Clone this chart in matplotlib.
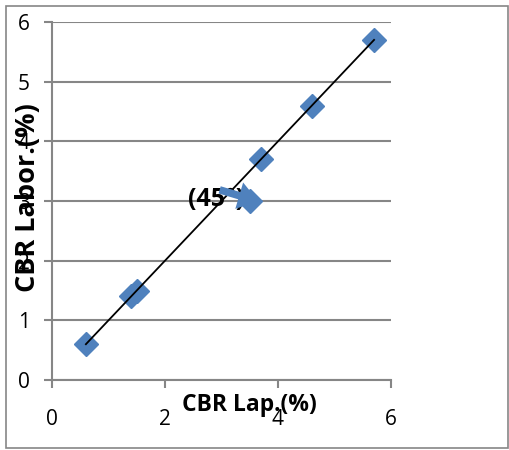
import matplotlib
matplotlib.use("Agg")
import matplotlib.pyplot as plt
from matplotlib.patches import Rectangle

# CBR values
cbr_lap = [0.6, 1.4, 1.5, 3.5, 3.7, 4.6, 5.7]
cbr_labor = [0.6, 1.4, 1.5, 3.0, 3.7, 4.6, 5.7]
line_x = [0.6, 5.7]
line_y = [0.6, 5.7]
ticks_x = [0, 2, 4, 6]
ticks_y = [0, 1, 2, 3, 4, 5, 6]

blue = '#4f81bd'
grey = '#868686'
plt.rcParams['font.family'] = ['Open Sans', 'DejaVu Sans']

fig = plt.figure(figsize=(5.1, 4.5), dpi=100)
ax = fig.add_axes([52 / 510, 1 - 380 / 450, 339 / 510, 358 / 450])

ax.plot(cbr_lap, cbr_labor, linestyle='none', marker='D', markersize=12.5,
        color=blue, zorder=3)
ax.plot(line_x, line_y, color='black', linewidth=1.3, zorder=5)

ax.text(2.9, 3.02, '(45°)', fontsize=18, fontweight='bold',
        ha='center', va='center', zorder=4)
ax.annotate('', xy=(3.7, 2.98), xytext=(2.92, 3.2),
            arrowprops=dict(arrowstyle='simple,head_width=1.1,head_length=0.8,tail_width=0.3',
                            mutation_scale=18, color=blue, lw=0), zorder=6)

ax.set_xlim(0, 6)
ax.set_ylim(0, 6)
ax.set_xticks(ticks_x)
ax.set_yticks(ticks_y)
ax.grid(axis='y', color=grey, linewidth=1.5)
ax.set_axisbelow(True)
for s in ['top', 'right']:
    ax.spines[s].set_visible(False)
for s in ['left', 'bottom']:
    ax.spines[s].set_color(grey)
    ax.spines[s].set_linewidth(1.5)
ax.tick_params(axis='x', direction='out', length=6, width=1.5, color=grey,
               labelsize=15, pad=15)
ax.tick_params(axis='y', direction='out', length=6, width=1.5, color=grey,
               labelsize=15, pad=10)

fig.text(249 / 510, 1 - 405 / 450, 'CBR Lap.(%)', fontsize=16.5, fontweight='bold',
         ha='center', va='center')
fig.text(28 / 510, 1 - 198 / 450, 'CBR Labor.(%)', fontsize=19.5, fontweight='bold',
         ha='center', va='center', rotation=90)

fig.patches.append(Rectangle((6 / 510, 2 / 450), 502 / 510, 442 / 450,
                             transform=fig.transFigure, fill=False,
                             edgecolor=grey, linewidth=1.2))

fig.savefig('out.png', dpi=100)
